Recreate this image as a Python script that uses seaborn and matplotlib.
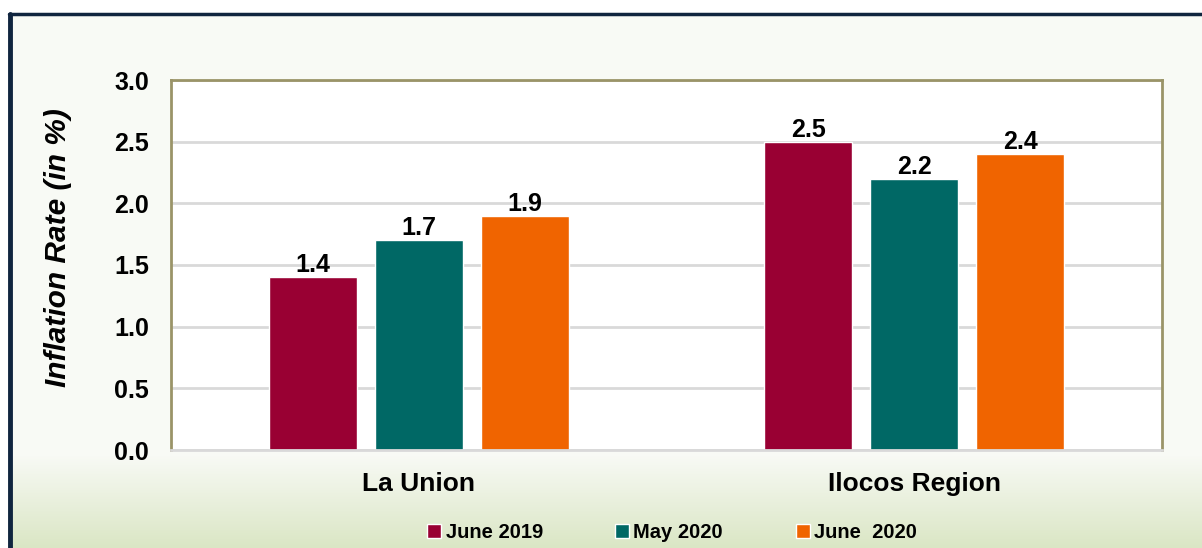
import numpy as np
import pandas as pd
import seaborn as sns
import matplotlib.pyplot as plt
from matplotlib.lines import Line2D

# 데이터
regions = ["La Union", "Ilocos Region"]
periods = ["June 2019", "May 2020", "June  2020"]
june_2019 = [1.4, 2.5]
may_2020 = [1.7, 2.2]
june_2020 = [1.9, 2.4]
colors = ["#990033", "#006865", "#f06400"]

df = pd.DataFrame({
    "region": regions * 3,
    "period": [periods[0]] * 2 + [periods[1]] * 2 + [periods[2]] * 2,
    "rate": june_2019 + may_2020 + june_2020,
})

sns.set_style("white")
plt.rcParams["font.family"] = ["Liberation Sans", "DejaVu Sans"]
plt.rcParams["text.color"] = "black"
plt.rcParams["axes.labelcolor"] = "black"
plt.rcParams["xtick.color"] = "black"
plt.rcParams["ytick.color"] = "black"

fig = plt.figure(figsize=(12.02, 5.48), dpi=100)

# 배경 그라데이션
bg = fig.add_axes([0, 0, 1, 1], zorder=-10)
h = 548
grad = np.ones((h, 1, 3))
base = np.array([248, 250, 245]) / 255
bottom = np.array([218, 230, 196]) / 255
for i in range(h):
    t = (i - 455) / (h - 455)
    t = min(max(t, 0), 1)
    grad[i, 0] = base * (1 - t) + bottom * t
grad[:13, 0] = 1
img = np.repeat(grad, 1202, axis=1)
img[:, :8] = 1
bg.imshow(img, aspect="auto", extent=[0, 1, 0, 1], origin="upper")
bg.set_xlim(0, 1)
bg.set_ylim(0, 1)
bg.axis("off")
fig.add_artist(Line2D([10.5 / 1202, 10.5 / 1202], [0, 1 - 14 / 548], color="#10253f", lw=3.5))
fig.add_artist(Line2D([8.5 / 1202, 1], [1 - 14 / 548, 1 - 14 / 548], color="#10253f", lw=2.5))

ax = fig.add_axes([171 / 1202, 1 - 450 / 548, 991 / 1202, 370 / 548])
ax.set_facecolor("white")
sns.barplot(data=df, x="region", y="rate", hue="period", palette=colors,
            saturation=1, width=0.642, gap=0.17, ax=ax, legend=True)

ax.set_ylim(0, 3.0)
ax.set_yticks(np.arange(0, 3.01, 0.5))
ax.set_yticklabels([f"{v:.1f}" for v in np.arange(0, 3.01, 0.5)],
                   fontsize=18, fontweight="bold")
ax.set_xticks([0, 1])
ax.set_xticklabels(regions, fontsize=19, fontweight="bold")
ax.tick_params(axis="y", pad=16, length=0)
ax.tick_params(axis="x", pad=16, length=0)
ax.set_xlabel("")
ax.set_ylabel("Inflation Rate (in %)", fontsize=21.5, fontweight="bold",
              style="italic")
ax.yaxis.set_label_coords(-99 / 991, 0.547)
ax.yaxis.grid(True, color="#d9d9d9", lw=2)
ax.set_axisbelow(True)

for s in ["left", "top", "right"]:
    ax.spines[s].set_color("#9a9468")
    ax.spines[s].set_linewidth(2)
ax.spines["bottom"].set_color("#d9d9d9")
ax.spines["bottom"].set_linewidth(2)

for c in ax.containers:
    ax.bar_label(c, fmt="%.1f", fontsize=18, fontweight="bold", padding=0)

leg = ax.legend(loc="lower center", bbox_to_anchor=(0.5055, -0.298), ncol=3,
                frameon=False, handlelength=0.7, handleheight=0.7,
                handletextpad=0.2, columnspacing=3.6,
                prop={"weight": "bold", "size": 14.5})

fig.savefig("out.png", dpi=100)
